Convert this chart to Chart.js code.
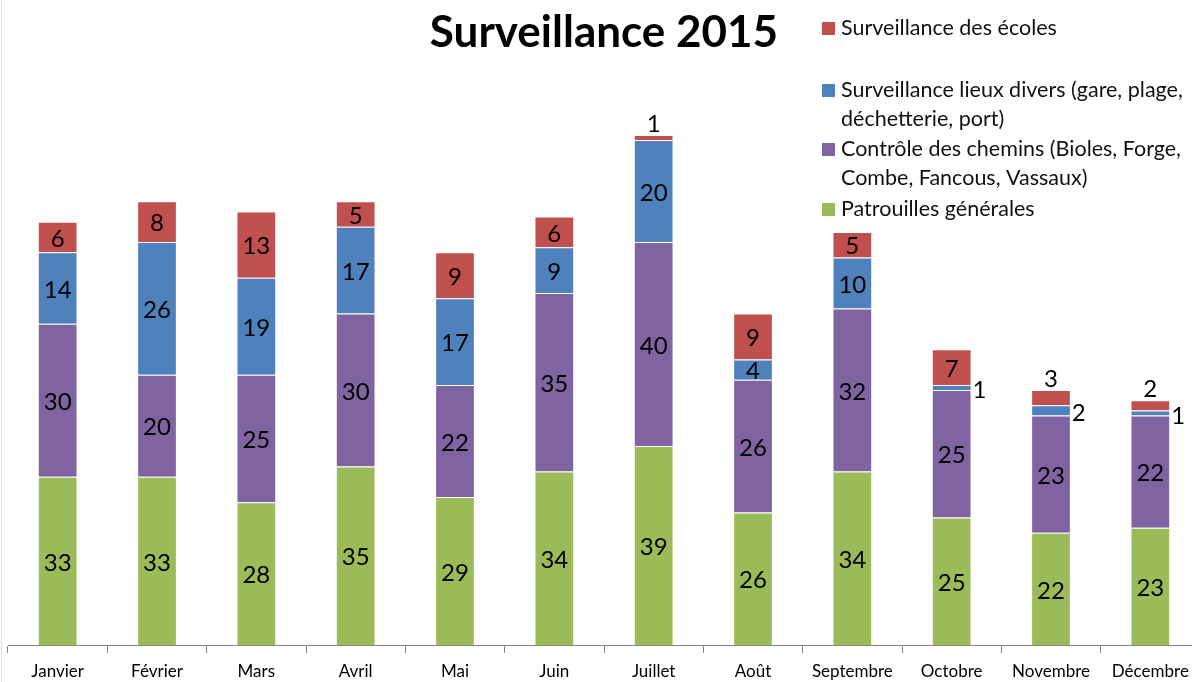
<!DOCTYPE html>
<html>
<head>
<meta charset="utf-8">
<script src="https://cdn.jsdelivr.net/npm/chart.js@4.4.0/dist/chart.umd.min.js"></script>
<style>
  body { margin: 0; background: #fff; overflow: hidden; }
  #wrap { position: relative; width: 1200px; height: 682px; }
  #edge { position: absolute; left: 1px; top: 0; width: 1px; height: 682px; background: #e0e0e0; }
</style>
</head>
<body>
<div id="wrap">
  <canvas id="surveillance-chart" width="1200" height="682"></canvas>
  <div id="edge"></div>
</div>
<script>
// Months on the x axis
const months = ['Janvier', 'Février', 'Mars', 'Avril', 'Mai', 'Juin',
  'Juillet', 'Août', 'Septembre', 'Octobre', 'Novembre', 'Décembre'];

// Series values, bottom of the stack first
const patrouilles = [33, 33, 28, 35, 29, 34, 39, 26, 34, 25, 22, 23];
const controleChemins = [30, 20, 25, 30, 22, 35, 40, 26, 32, 25, 23, 22];
const lieuxDivers = [14, 26, 19, 17, 17, 9, 20, 4, 10, 1, 2, 1];
const ecoles = [6, 8, 13, 5, 9, 6, 1, 9, 5, 7, 3, 2];

// Series names, and how the legend breaks them into lines
const seriesNames = [
  'Patrouilles générales',
  'Contrôle des chemins (Bioles, Forge, Combe, Fancous, Vassaux)',
  'Surveillance lieux divers (gare, plage, déchetterie, port)',
  'Surveillance des écoles'
];
const legendLines = [
  ['Patrouilles générales'],
  ['Contrôle des chemins (Bioles, Forge,', 'Combe, Fancous, Vassaux)'],
  ['Surveillance lieux divers (gare, plage,', 'déchetterie, port)'],
  ['Surveillance des écoles']
];
const seriesColors = ['#9BBB59', '#8064A2', '#4F81BD', '#C0504D'];

const fontFamily = 'Lato, "Open Sans", sans-serif';

// Write the values on the bars (outside when the piece is too thin)
const barLabels = {
  id: 'barLabels',
  afterDatasetsDraw(chart) {
    const ctx = chart.ctx;
    const last = chart.data.datasets.length - 1;
    ctx.save();
    ctx.font = '24px ' + fontFamily;
    ctx.fillStyle = '#000';
    chart.data.datasets.forEach((ds, i) => {
      chart.getDatasetMeta(i).data.forEach((bar, j) => {
        const v = ds.data[j];
        const h = bar.base - bar.y;
        if (h >= 18) {
          ctx.textAlign = 'center';
          ctx.textBaseline = 'middle';
          ctx.fillText(v, bar.x, (bar.y + bar.base) / 2 + 2);
        } else if (i === last) {
          ctx.textAlign = 'center';
          ctx.textBaseline = 'alphabetic';
          ctx.fillText(v, bar.x, bar.y - 3);
        } else {
          ctx.textAlign = 'left';
          ctx.textBaseline = 'middle';
          ctx.fillText(v, bar.x + bar.width / 2 + 1, (bar.y + bar.base) / 2 + 3);
        }
      });
    });
    ctx.restore();
  }
};

// Legend in the top right corner, last series first
const sideLegend = {
  id: 'sideLegend',
  afterDraw(chart) {
    const ctx = chart.ctx;
    const tops = [22, 84, 143, 203];
    ctx.save();
    ctx.font = '21.5px ' + fontFamily;
    ctx.textAlign = 'left';
    ctx.textBaseline = 'alphabetic';
    for (let k = 0; k < 4; k++) {
      const s = 3 - k;
      ctx.fillStyle = seriesColors[s];
      ctx.fillRect(822, tops[k], 13, 13);
      ctx.fillStyle = '#111';
      legendLines[s].forEach((line, n) => {
        ctx.fillText(line, 841, tops[k] + 13 + n * 29);
      });
    }
    ctx.restore();
  }
};

const seriesData = [patrouilles, controleChemins, lieuxDivers, ecoles];

let surveillanceChart = new Chart('surveillance-chart', {
  type: 'bar',
  data: {
    labels: months,
    datasets: seriesData.map((values, i) => ({
      label: seriesNames[i],
      data: values,
      backgroundColor: seriesColors[i],
      borderColor: 'rgba(255,255,255,0.45)',
      borderWidth: 1,
      categoryPercentage: 1,
      barPercentage: 0.4
    }))
  },
  options: {
    responsive: false,
    animation: false,
    layout: {
      padding: { left: 8, right: 0, top: 0, bottom: 0 }
    },
    plugins: {
      legend: { display: false },
      tooltip: { enabled: false },
      title: {
        display: true,
        text: 'Surveillance 2015',
        color: '#000',
        font: { family: fontFamily, size: 44, weight: 'bold', lineHeight: 1.2 },
        padding: { top: 6, bottom: 76.2 }
      }
    },
    scales: {
      x: {
        stacked: true,
        afterFit: (scale) => { scale.height = 37; },
        grid: {
          display: true,
          offset: true,
          drawOnChartArea: false,
          drawTicks: true,
          tickLength: 8,
          color: '#868686'
        },
        border: { display: true, color: '#868686', width: 1 },
        ticks: {
          color: '#000',
          padding: 8,
          maxRotation: 0,
          autoSkip: false,
          font: { family: fontFamily, size: 17 }
        }
      },
      y: {
        stacked: true,
        display: false,
        min: 0,
        max: 100
      }
    }
  },
  plugins: [barLabels, sideLegend]
});
</script>
</body>
</html>
